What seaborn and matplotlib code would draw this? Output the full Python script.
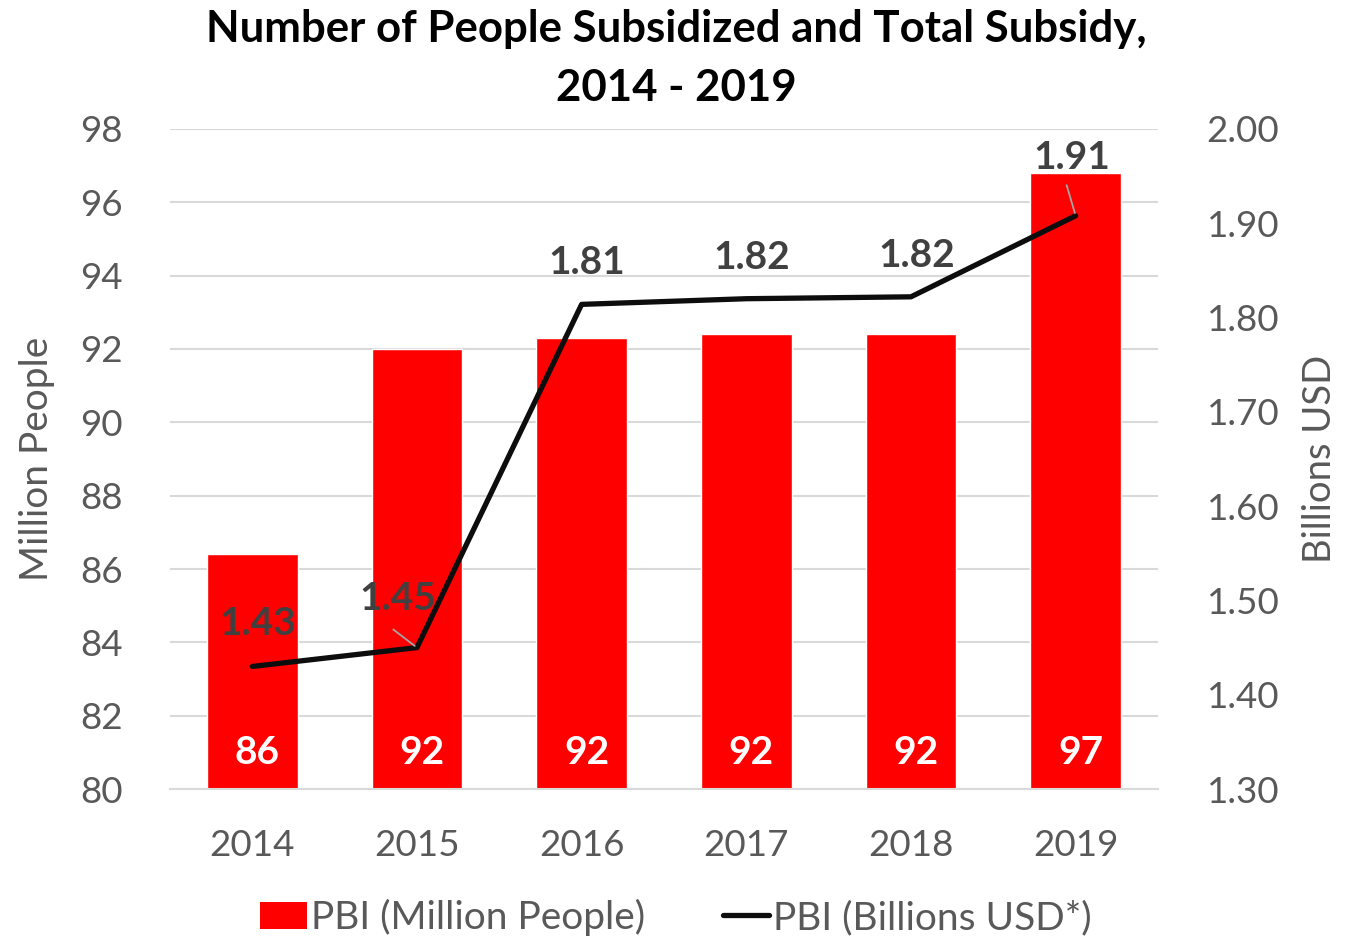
import pandas as pd
import numpy as np
import matplotlib
matplotlib.use("Agg")
import matplotlib.pyplot as plt
import seaborn as sns
from matplotlib.patches import Patch
from matplotlib.lines import Line2D

years = ["2014", "2015", "2016", "2017", "2018", "2019"]
people = [86.4, 92.0, 92.3, 92.4, 92.4, 96.8]
people_labels = ["86", "92", "92", "92", "92", "97"]
subsidy = [1.43, 1.45, 1.814, 1.82, 1.822, 1.908]
subsidy_labels = ["1.43", "1.45", "1.81", "1.82", "1.82", "1.91"]

sns.set_theme(style="white")
plt.rcParams["font.family"] = ["Lato", "DejaVu Sans"]

grey = "#595959"
dark = "#404040"

df = pd.DataFrame({"year": years, "people": people, "subsidy": subsidy})

fig = plt.figure(figsize=(13.52, 9.38), dpi=100)
ax = fig.add_axes([0.1257, 0.1588, 0.7308, 0.7037])

sns.barplot(data=df, x="year", y="people", color="#ff0000", saturation=1,
            width=0.55, ax=ax, zorder=2)
ax.set_ylim(80, 98)
ax.set_yticks(np.arange(80, 99, 2))
ax.set_xlim(-0.5, 5.5)
ax.grid(axis="y", color="#d9d9d9", linewidth=1.5, zorder=0)
ax.set_axisbelow(True)
for s in ["top", "right", "left"]:
    ax.spines[s].set_visible(False)
ax.spines["bottom"].set_color("#d9d9d9")
ax.spines["bottom"].set_linewidth(1.5)
ax.tick_params(axis="y", colors=grey, labelsize=26.5, length=0, pad=34)
ax.tick_params(axis="x", colors=grey, labelsize=26.5, length=0, pad=29)
ax.set_xlabel("")
ax.set_ylabel("Million People", fontsize=28, color=grey, labelpad=18)

for i, lab in enumerate(people_labels):
    ax.text(i + 0.03, 81.0, lab, ha="center", va="center", color="white",
            fontsize=28, fontweight="bold", zorder=5)

ax2 = ax.twinx()
sns.lineplot(x=np.arange(len(years)), y=subsidy, color="#0d0d0d",
             linewidth=3.8, ax=ax2, zorder=4)
ax2.set_ylim(1.30, 2.00)
ax2.set_yticks(np.arange(1.30, 2.001, 0.10))
ax2.set_yticklabels([f"{v:.2f}" for v in np.arange(1.30, 2.001, 0.10)])
for s in ["top", "right", "left", "bottom"]:
    ax2.spines[s].set_visible(False)
ax2.tick_params(axis="y", colors=grey, labelsize=26.5, length=0, pad=35)
ax2.set_ylabel("Billions USD", fontsize=27.5, color=grey, labelpad=16)

# label offsets and leader-line starts (points)
offsets = [(4, 31), (-14, 35), (4, 30), (4, 30), (4, 30), (-3, 42)]
leaders = [None, (-17, 13), None, None, None, (-6.5, 22)]
for i, (lab, off, lead) in enumerate(zip(subsidy_labels, offsets, leaders)):
    if lead is not None:
        ax2.annotate("", xy=(i, subsidy[i]), xytext=lead,
                     textcoords="offset points", zorder=5,
                     arrowprops=dict(arrowstyle="-", color="#a6a6a6", lw=1.3,
                                     shrinkA=0, shrinkB=2))
    ax2.annotate(lab, xy=(i, subsidy[i]), xytext=off, textcoords="offset points",
                 ha="center", va="center", fontsize=28, fontweight="bold",
                 color=dark, zorder=6)

fig.suptitle("Number of People Subsidized and Total Subsidy,\n2014 - 2019",
             x=0.5, y=0.99, fontsize=31.5, fontweight="bold", color="black",
             linespacing=1.55)

handles = [Patch(facecolor="#ff0000", edgecolor="none"),
           Line2D([0], [0], color="#0d0d0d", linewidth=3.8)]
fig.legend(handles, ["PBI (Million People)", "PBI (Billions USD*)"],
           loc="center", bbox_to_anchor=(0.5, 0.022), ncol=2, frameon=False,
           fontsize=28, labelcolor=grey, handlelength=1.2, handletextpad=0.1,
           columnspacing=2.0)

fig.savefig("out.png", dpi=100)
